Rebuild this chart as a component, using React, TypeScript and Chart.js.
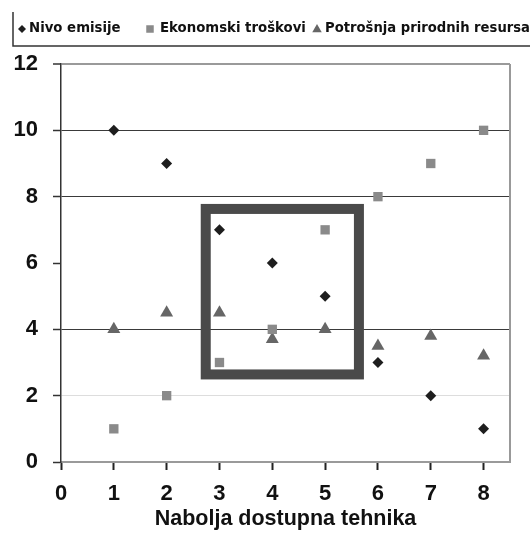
import React, { useEffect, useRef } from 'react';
import { Chart, registerables } from 'chart.js';

Chart.register(...registerables);

// ---- data ----
const xValues = [1, 2, 3, 4, 5, 6, 7, 8];
const emissionValues = [10, 9, 7, 6, 5, 3, 2, 1];
const costValues = [1, 2, 3, 4, 7, 8, 9, 10];
const resourceValues = [4, 4.5, 4.5, 3.7, 4, 3.5, 3.8, 3.2];
const seriesLabels = ['Nivo emisije', 'Ekonomski troškovi', 'Potrošnja prirodnih resursa'];
const xTickValues = [0, 1, 2, 3, 4, 5, 6, 7, 8];
const yTickValues = [0, 2, 4, 6, 8, 10, 12];
const xAxisTitle = 'Nabolja dostupna tehnika';
// highlight rectangle in data units: xMin, xMax, yMin, yMax
const highlightBox = [2.74, 5.64, 2.64, 7.63];

const seriesColors = ['#1e1e1e', '#8a8a8a', '#666666'];
const seriesStyles = ['rectRot', 'rect', 'triangle'];

function drawMarker(ctx: CanvasRenderingContext2D, style: string, x: number, y: number, s: number, color: string) {
  ctx.save();
  ctx.fillStyle = color;
  ctx.beginPath();
  if (style === 'rectRot') {
    ctx.moveTo(x, y - s);
    ctx.lineTo(x + s, y);
    ctx.lineTo(x, y + s);
    ctx.lineTo(x - s, y);
  } else if (style === 'rect') {
    ctx.rect(x - s * 0.75, y - s * 0.75, s * 1.5, s * 1.5);
  } else {
    ctx.moveTo(x, y - s);
    ctx.lineTo(x + s * 0.95, y + s * 0.65);
    ctx.lineTo(x - s * 0.95, y + s * 0.65);
  }
  ctx.closePath();
  ctx.fill();
  ctx.restore();
}

const decorPlugin = {
  id: 'decor',
  beforeDatasetsDraw(chart: any) {
    const { ctx, chartArea, scales } = chart;
    const xs = scales.x;
    const ys = scales.y;
    // right border
    ctx.save();
    ctx.strokeStyle = '#999999';
    ctx.lineWidth = 2;
    ctx.beginPath();
    ctx.moveTo(chartArea.right, chartArea.top);
    ctx.lineTo(chartArea.right, chartArea.bottom + 1);
    ctx.stroke();
    // highlight box
    const [x0, x1, y0, y1] = highlightBox;
    const px0 = xs.getPixelForValue(x0);
    const px1 = xs.getPixelForValue(x1);
    const py0 = ys.getPixelForValue(y1);
    const py1 = ys.getPixelForValue(y0);
    ctx.strokeStyle = '#4a4a4a';
    ctx.lineWidth = 10;
    ctx.strokeRect(px0, py0, px1 - px0, py1 - py0);
    ctx.restore();
  },
  afterDraw(chart: any) {
    const { ctx } = chart;
    ctx.save();
    // legend frame
    ctx.strokeStyle = '#333333';
    ctx.lineWidth = 1.5;
    ctx.beginPath();
    ctx.moveTo(13, 12);
    ctx.lineTo(13, 46);
    ctx.lineTo(530, 46);
    ctx.stroke();
    const markerX = [22, 150, 317];
    const textX = [29, 160, 325];
    const markerSize = [4, 5, 5];
    const cy = 29;
    ctx.font = 'bold 13.3px "DejaVu Sans"';
    ctx.textBaseline = 'middle';
    ctx.textAlign = 'left';
    seriesLabels.forEach((label, i) => {
      drawMarker(ctx, seriesStyles[i], markerX[i], cy, markerSize[i], seriesColors[i]);
      ctx.fillStyle = '#111111';
      ctx.fillText(label, textX[i], cy, 530 - textX[i]);
    });
    ctx.restore();
  },
};

export default function App() {
  const canvasRef = useRef<HTMLCanvasElement>(null);

  useEffect(() => {
    document.body.style.margin = '0';
    const canvas = canvasRef.current;
    if (!canvas) return;
    const toPoints = (vals: number[]) => vals.map((v, i) => ({ x: xValues[i], y: v }));
    const chart = new Chart(canvas, {
      type: 'scatter',
      data: {
        datasets: [
          {
            label: seriesLabels[0],
            data: toPoints(emissionValues),
            pointStyle: 'rectRot',
            pointRadius: 5.5,
            backgroundColor: seriesColors[0],
            borderColor: seriesColors[0],
            borderWidth: 0,
          },
          {
            label: seriesLabels[1],
            data: toPoints(costValues),
            pointStyle: 'rect',
            pointRadius: 6.6,
            backgroundColor: seriesColors[1],
            borderColor: seriesColors[1],
            borderWidth: 0,
          },
          {
            label: seriesLabels[2],
            data: toPoints(resourceValues),
            pointStyle: 'triangle',
            pointRadius: 7.5,
            backgroundColor: seriesColors[2],
            borderColor: seriesColors[2],
            borderWidth: 0,
          },
        ],
      },
      options: {
        animation: false,
        responsive: false,
        maintainAspectRatio: false,
        layout: { padding: { top: 64, right: 20, left: 0, bottom: 0 } },
        plugins: {
          legend: { display: false },
          tooltip: { enabled: false },
        },
        scales: {
          x: {
            type: 'linear',
            min: 0,
            max: 8.5,
            afterBuildTicks: (scale: any) => {
              scale.ticks = xTickValues.map((v) => ({ value: v }));
            },
            afterFit: (scale: any) => {
              scale.height = 78;
            },
            ticks: {
              color: '#111111',
              font: { family: '"Liberation Sans", Arial', size: 22, weight: 'bold' },
              padding: 11,
              maxRotation: 0,
              callback: (v: any) => String(v),
            },
            grid: {
              drawOnChartArea: false,
              drawTicks: true,
              tickLength: 8,
              tickColor: '#222222',
              tickWidth: 2,
            },
            border: { color: '#9a9a9a', width: 2 },
            title: {
              display: true,
              text: xAxisTitle,
              color: '#111111',
              font: { family: '"Liberation Sans", Arial', size: 21.5, weight: 'bold' },
              padding: { top: 4, bottom: 8 },
            },
          },
          y: {
            type: 'linear',
            min: 0,
            max: 12,
            afterBuildTicks: (scale: any) => {
              scale.ticks = yTickValues.map((v) => ({ value: v }));
            },
            afterFit: (scale: any) => {
              scale.width = 61;
            },
            ticks: {
              color: '#111111',
              font: { family: '"Liberation Sans", Arial', size: 22, weight: 'bold' },
              padding: 15,
              callback: (v: any) => String(v),
            },
            grid: {
              drawTicks: true,
              tickLength: 8,
              tickColor: '#333333',
              tickWidth: 1.5,
              color: (c: any) => {
                const v = c.tick ? c.tick.value : null;
                if (v === 12) return '#9a9a9a';
                if (v === 10 || v === 8 || v === 4) return '#3a3a3a';
                if (v === 2) return '#dddddd';
                return 'rgba(0,0,0,0)';
              },
              lineWidth: (c: any) => (c.tick && c.tick.value === 12 ? 2 : 1),
            },
            border: { color: '#333333', width: 1.5 },
          },
        },
      },
      plugins: [decorPlugin],
    } as any);
    return () => chart.destroy();
  }, []);

  return (
    <div style={{ width: 530, height: 540 }}>
      <canvas ref={canvasRef} width={530} height={540} style={{ display: 'block', width: 530, height: 540 }} />
    </div>
  );
}
